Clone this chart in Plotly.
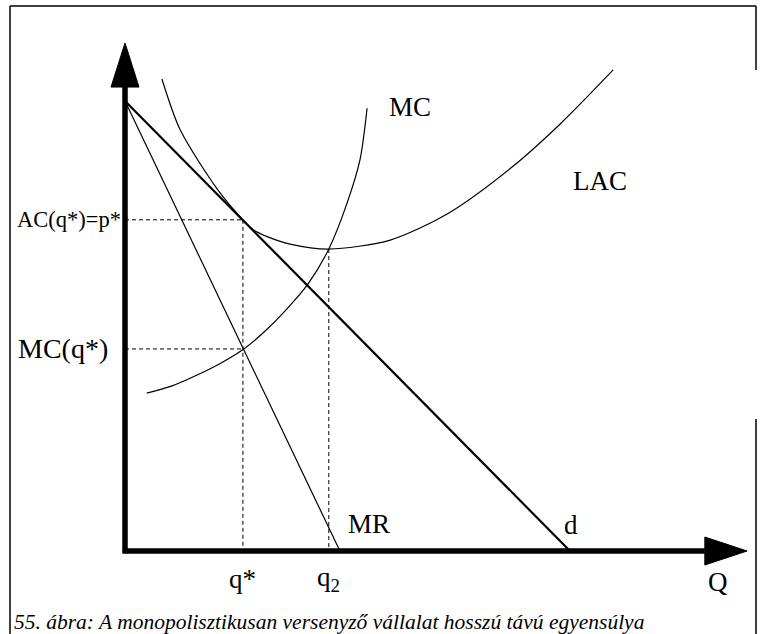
import plotly.graph_objects as go

# ---- data (economic units) ----
demand_q = [0.0, 10.0]
demand_p = [10.0, 0.0]
mr_q = [0.0, 4.83]
mr_p = [10.0, 0.0]
lac_q = [0.83, 1.24, 2.09, 2.65, 2.88, 3.21, 3.71, 4.58, 5.96, 7.24, 8.67, 9.78, 10.97]
lac_p = [10.49, 9.36, 8.02, 7.36, 7.14, 6.98, 6.82, 6.71, 6.91, 7.49, 8.51, 9.49, 10.69]
mc_q = [0.49, 1.06, 1.62, 2.16, 2.67, 3.15, 3.62, 4.11, 4.58, 4.99, 5.28, 5.44]
mc_p = [3.51, 3.67, 3.91, 4.18, 4.49, 4.89, 5.36, 5.93, 6.71, 7.73, 8.69, 9.84]
q_star = 2.65
p_star = 7.36
mc_at_qstar = 4.49
q2 = 4.58
lac_min = 6.71
axis_top = 10.31
axis_right = 13.03
arrow_len_y = 0.98
arrow_len_x = 0.95

# pixel scale helpers (layout only)
W, H = 760, 634
X0, Y0 = 125, 551
SX, SY = 44.5, 45.0
xr = [-X0 / SX, (W - X0) / SX]
yr = [(Y0 - H) / SY, Y0 / SY]

FONT = "Liberation Serif, Times New Roman, serif"

fig = go.Figure()

def line(x, y, width=1, dash=None, shape="linear"):
    fig.add_trace(go.Scatter(x=x, y=y, mode="lines",
                             line=dict(color="black", width=width, dash=dash, shape=shape, smoothing=0.8),
                             hoverinfo="skip", showlegend=False))

# curves
line(lac_q, lac_p, 1.2, shape="spline")
line(mc_q, mc_p, 1.2, shape="spline")
line(demand_q, demand_p, 2.2)
line(mr_q, mr_p, 1.2)

# dashed guides
dash = "4px,3px"
line([0, q_star], [p_star, p_star], 1, dash)
line([q_star, q_star], [p_star, 0], 1, dash)
line([0, q_star], [mc_at_qstar, mc_at_qstar], 1, dash)
line([q2, q2], [lac_min, 0], 1, dash)

shapes = []
# axes
shapes.append(dict(type="line", xref="x", yref="y", x0=0, x1=0, y0=-0.05, y1=axis_top,
                   line=dict(color="black", width=5.5)))
shapes.append(dict(type="line", xref="x", yref="y", x0=-0.05, x1=axis_right, y0=0, y1=0,
                   line=dict(color="black", width=5.5)))
# arrowheads
hw_x = 14 / SX
hw_y = 14 / SY
shapes.append(dict(type="path", xref="x", yref="y",
                   path=f"M {-hw_x},{axis_top} L {hw_x},{axis_top} L 0,{axis_top + arrow_len_y} Z",
                   fillcolor="black", line=dict(color="black", width=1)))
shapes.append(dict(type="path", xref="x", yref="y",
                   path=f"M {axis_right},{-hw_y} L {axis_right},{hw_y} L {axis_right + arrow_len_x},0 Z",
                   fillcolor="black", line=dict(color="black", width=1)))
# frame
def px(x): return x / W
def py(y): return 1 - y / H
frame = dict(type="line", xref="paper", yref="paper", line=dict(color="black", width=1.5))
shapes.append({**frame, "x0": px(10), "x1": px(10), "y0": py(6), "y1": py(634)})
shapes.append({**frame, "x0": px(10), "x1": px(756), "y0": py(6), "y1": py(6)})
shapes.append({**frame, "x0": px(756), "x1": px(756), "y0": py(6), "y1": py(70)})
shapes.append({**frame, "x0": px(756), "x1": px(756), "y0": py(419), "y1": py(634)})

annotations = []
def label(text, x, y, size, xanchor="center", italic=False, xref="x", yref="y"):
    annotations.append(dict(text=text, x=x, y=y, xref=xref, yref=yref, showarrow=False,
                            xanchor=xanchor, yanchor="middle",
                            font=dict(family=FONT, size=size, color="black",
                                      style="italic" if italic else "normal")))

label("MC", (410 - X0) / SX, (Y0 - 107) / SY, 27)
label("LAC", (600 - X0) / SX, (Y0 - 181) / SY, 27)
label("MR", (369 - X0) / SX, (Y0 - 524) / SY, 27)
label("d", (571 - X0) / SX, (Y0 - 525) / SY, 27)
label("Q", (718 - X0) / SX, (Y0 - 582) / SY, 27)
label("q*", q_star, (Y0 - 579) / SY, 27)
label("q<sub>2</sub>", q2, (Y0 - 579) / SY, 27)
label("AC(q*)=p*", (123 - X0) / SX, p_star, 22.5, xanchor="right")
label("MC(q*)", (110 - X0) / SX, mc_at_qstar, 28, xanchor="right")
label("55. ábra: A monopolisztikusan versenyző vállalat hosszú távú egyensúlya",
      px(12), py(622), 21.5, xanchor="left", italic=True, xref="paper", yref="paper")

fig.update_layout(
    width=W, height=H, autosize=False,
    margin=dict(l=0, r=0, t=0, b=0, pad=0),
    paper_bgcolor="white", plot_bgcolor="white",
    xaxis=dict(range=xr, visible=False, fixedrange=True),
    yaxis=dict(range=yr, visible=False, fixedrange=True),
    shapes=shapes, annotations=annotations, showlegend=False,
)

fig.write_html("out.html", config={"displayModeBar": False, "staticPlot": True},
               post_script="document.body.style.margin='0';document.body.style.overflow='hidden';")
